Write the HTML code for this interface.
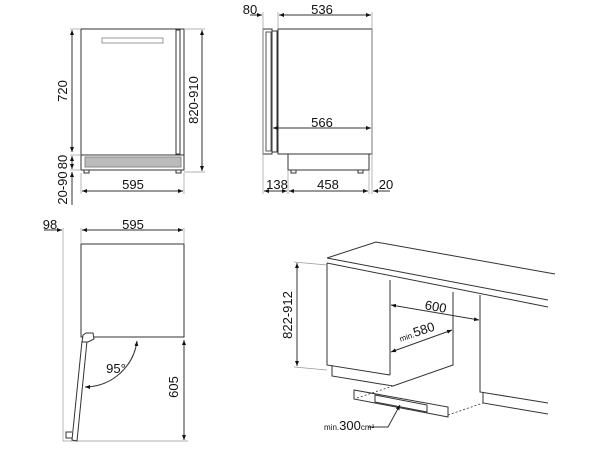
<!DOCTYPE html>
<html><head><meta charset="utf-8"><style>
html,body{margin:0;padding:0;background:#fff;width:600px;height:450px;overflow:hidden}
text{font-family:"Liberation Sans",sans-serif;fill:#111}
</style></head><body>
<svg width="600" height="450" viewBox="0 0 600 450" xmlns="http://www.w3.org/2000/svg">
<defs>
<marker id="a" viewBox="0 0 10 10" refX="10" refY="5" markerWidth="5" markerHeight="5" orient="auto-start-reverse"><path d="M0,1 L10,5 L0,9 z" fill="#111"/></marker>
</defs>
<g stroke="#333" stroke-width="1" fill="none">
<rect x="81" y="29" width="103" height="126" fill="#fff"/>
<rect x="176" y="30" width="4" height="124"/>
<rect x="102" y="38" width="61" height="5" stroke="#999"/>
<rect x="81" y="155" width="103" height="15"/>
<rect x="85" y="157" width="96" height="10" fill="#bbb" stroke="#888"/>
<rect x="84" y="170" width="5" height="3"/><rect x="176" y="170" width="5" height="3"/>
<g stroke="#999" stroke-width="0.7">
<line x1="70" y1="29" x2="81" y2="29"/><line x1="70" y1="155" x2="81" y2="155"/><line x1="70" y1="170" x2="81" y2="170"/>
<line x1="184" y1="29" x2="205" y2="29"/><line x1="184" y1="172" x2="205" y2="172"/>
<line x1="81" y1="173" x2="81" y2="194"/><line x1="184" y1="173" x2="184" y2="194"/>
</g>
<line x1="72" y1="30" x2="72" y2="152" marker-start="url(#a)" marker-end="url(#a)"/>
<line x1="72" y1="156" x2="72" y2="169" marker-start="url(#a)" marker-end="url(#a)"/>
<line x1="72" y1="172" x2="72" y2="205" marker-start="url(#a)"/>
<line x1="202" y1="30" x2="202" y2="171" marker-start="url(#a)" marker-end="url(#a)"/>
<line x1="82" y1="191" x2="183" y2="191" marker-start="url(#a)" marker-end="url(#a)"/>
<rect x="263" y="29" width="9" height="125"/>
<rect x="266" y="32" width="5" height="119" stroke="#555"/>
<rect x="272" y="31" width="5" height="121"/>
<rect x="278" y="29" width="94" height="125" fill="#fff"/>
<rect x="288" y="154" width="81" height="16"/>
<rect x="291" y="170" width="5" height="3"/><rect x="358" y="170" width="5" height="3"/>
<g stroke="#999" stroke-width="0.7">
<line x1="263" y1="12" x2="263" y2="194"/><line x1="278" y1="12" x2="278" y2="29"/><line x1="372" y1="12" x2="372" y2="194"/>
<line x1="288" y1="170" x2="288" y2="194"/><line x1="369" y1="170" x2="369" y2="194"/>
</g>
<line x1="250" y1="15" x2="262" y2="15" marker-end="url(#a)"/>
<line x1="279" y1="15" x2="371" y2="15" marker-start="url(#a)" marker-end="url(#a)"/>
<line x1="273" y1="128" x2="371" y2="128" marker-start="url(#a)" marker-end="url(#a)"/>
<line x1="264" y1="191" x2="287" y2="191" marker-start="url(#a)" marker-end="url(#a)"/>
<line x1="289" y1="191" x2="368" y2="191" marker-start="url(#a)" marker-end="url(#a)"/>
<line x1="390" y1="191" x2="373" y2="191" marker-end="url(#a)"/>
<rect x="81" y="244" width="103" height="93"/>
<g stroke="#999" stroke-width="0.7">
<line x1="63" y1="228" x2="63" y2="441"/><line x1="81" y1="228" x2="81" y2="244"/><line x1="184" y1="228" x2="184" y2="244"/>
<line x1="63" y1="441" x2="188" y2="441"/>
</g>
<line x1="44" y1="230" x2="62" y2="230" marker-end="url(#a)"/>
<line x1="82" y1="230" x2="183" y2="230" marker-start="url(#a)" marker-end="url(#a)"/>
<line x1="184" y1="340" x2="184" y2="440" marker-start="url(#a)" marker-end="url(#a)"/>
<path d="M82,341 L72,440 L77,441 L87,341"/>
<path d="M83,335 L86,333 L93,333 L94,339 L88,342 L82,342 z" fill="#fff"/>
<path d="M72,432 L66,432 L66,438 L72,438"/>
<path d="M137,341 A53,53 0 0 1 85,387" marker-start="url(#a)" marker-end="url(#a)"/>
<path d="M327,258 L376,242 L555,274"/>
<path d="M327,258 L548,300"/>
<path d="M327,263 L548,307"/>
<path d="M327,263 L327,365 L390,375"/>
<path d="M390,280 L390,375"/>
<path d="M332,365 L332,376 L393,386"/>
<path d="M453,292 L453,365 L393,386"/>
<path d="M480,295 L480,392 L548,403"/>
<path d="M483,393 L483,403 L548,414"/>
<path d="M354,390 L448,407 L448,417 L354,399 z"/>
<path d="M375,395 L427,405 L427,412 L375,402 z"/>
<g stroke-dasharray="2,2" stroke-width="0.8">
<line x1="357" y1="398" x2="393" y2="386"/><line x1="448" y1="415" x2="483" y2="403"/>
</g>
<g stroke="#999" stroke-width="0.7">
<line x1="294" y1="262" x2="327" y2="265"/><line x1="294" y1="367" x2="327" y2="370"/>
</g>
<line x1="297" y1="263" x2="297" y2="366" marker-start="url(#a)" marker-end="url(#a)"/>
<line x1="391" y1="305" x2="479" y2="320" marker-start="url(#a)" marker-end="url(#a)"/>
<line x1="391" y1="352" x2="452" y2="330" marker-start="url(#a)" marker-end="url(#a)"/>
<path d="M368,427 L388,427 L400,405" marker-end="url(#a)"/>
</g>
<g font-size="13">
<text x="67" y="91" text-anchor="middle" transform="rotate(-90 67 91)">720</text>
<text x="67" y="162" text-anchor="middle" transform="rotate(-90 67 162)">80</text>
<text x="67" y="188" text-anchor="middle" transform="rotate(-90 67 188)">20-90</text>
<text x="198" y="100" text-anchor="middle" transform="rotate(-90 198 100)">820-910</text>
<text x="133" y="189" text-anchor="middle">595</text>
<text x="250" y="14" text-anchor="middle">80</text>
<text x="322" y="14" text-anchor="middle">536</text>
<text x="322" y="127" text-anchor="middle">566</text>
<text x="277" y="189" text-anchor="middle">138</text>
<text x="328" y="189" text-anchor="middle">458</text>
<text x="386" y="189" text-anchor="middle">20</text>
<text x="50" y="229" text-anchor="middle">98</text>
<text x="133" y="229" text-anchor="middle">595</text>
<text x="178" y="387" text-anchor="middle" transform="rotate(-90 178 387)">605</text>
<text x="116" y="373" text-anchor="middle">95°</text>
<text x="292" y="315" text-anchor="middle" transform="rotate(-90 292 315)">822-912</text>
<text x="435" y="311" text-anchor="middle" transform="rotate(10 435 311)">600</text>
<text x="418" y="336" transform="rotate(-18 418 336)" text-anchor="middle"><tspan font-size="8">min.</tspan>580</text>
<text x="324" y="430"><tspan font-size="8">min.</tspan>300<tspan font-size="8">cm²</tspan></text>
</g>
</svg>
</body></html>
